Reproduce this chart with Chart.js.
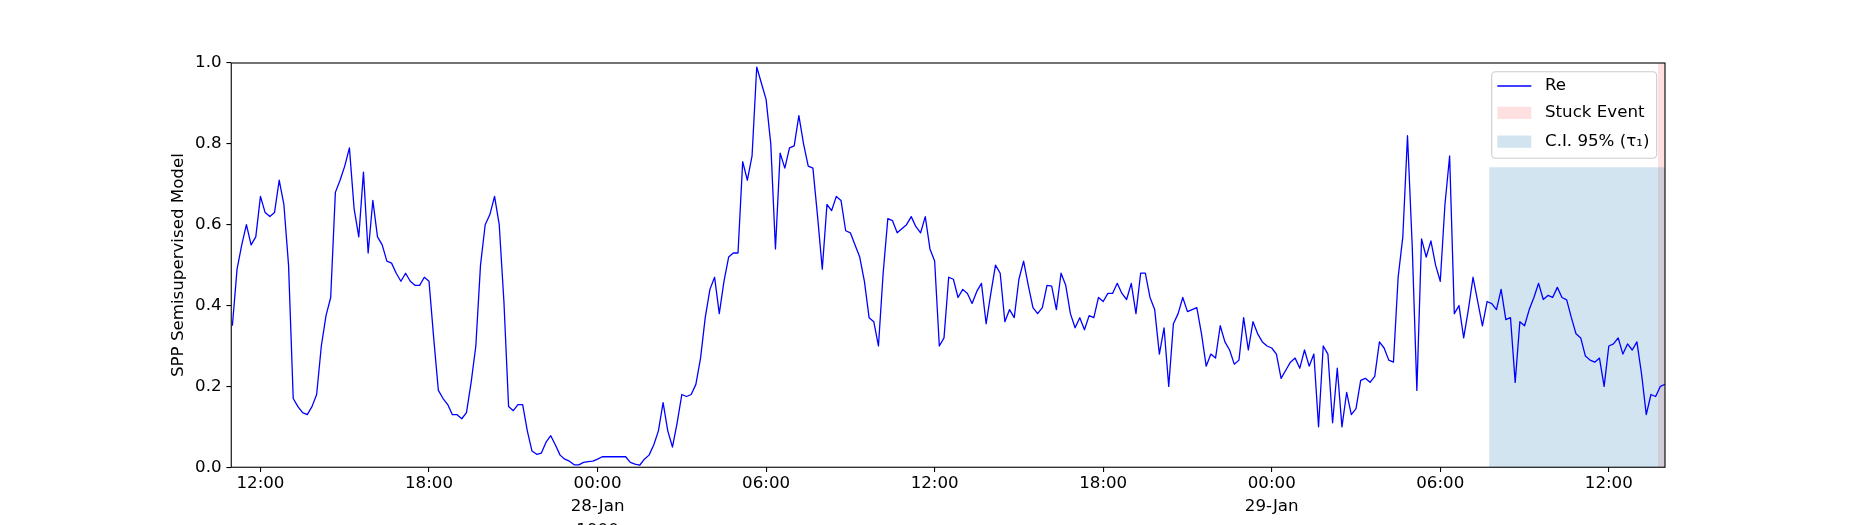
<!DOCTYPE html>
<html>
<head>
<meta charset="utf-8">
<script src="https://cdn.jsdelivr.net/npm/chart.js@4.4.1/dist/chart.umd.min.js"></script>
<style>
  html, body { margin: 0; padding: 0; background: #fff; overflow: hidden; }
  canvas { display: block; }
</style>
</head>
<body>
<canvas id="chart" width="1850" height="525"></canvas>
<script>
// one reading every 10 minutes, first one 27-Jan 11:00 (x is in hours from 27-Jan 00:00)
const startHour = 11;
const stepHours = 1 / 6;
const reValues = [
  0.35, 0.49, 0.55, 0.60, 0.55, 0.57, 0.67, 0.63, 0.62, 0.63,
  0.71, 0.65, 0.50, 0.17, 0.15, 0.135, 0.13, 0.15, 0.18, 0.30,
  0.375, 0.42, 0.68, 0.71, 0.745, 0.79, 0.64, 0.57, 0.73, 0.53,
  0.66, 0.57, 0.55, 0.51, 0.505, 0.48, 0.46, 0.48, 0.46, 0.45,
  0.45, 0.47, 0.46, 0.32, 0.19, 0.17, 0.155, 0.13, 0.13, 0.12,
  0.135, 0.21, 0.30, 0.50, 0.60, 0.625, 0.67, 0.60, 0.41, 0.15,
  0.14, 0.155, 0.155, 0.09, 0.04, 0.032, 0.035, 0.062, 0.078, 0.055,
  0.03, 0.02, 0.015, 0.006, 0.006, 0.012, 0.014, 0.015, 0.02, 0.026,
  0.026, 0.026, 0.026, 0.026, 0.026, 0.012, 0.008, 0.005, 0.02, 0.03,
  0.055, 0.09, 0.16, 0.09, 0.05, 0.11, 0.18, 0.175, 0.18, 0.205,
  0.27, 0.37, 0.44, 0.47, 0.38, 0.46, 0.52, 0.53, 0.53, 0.756,
  0.71, 0.77, 0.99, 0.95, 0.91, 0.80, 0.54, 0.777, 0.74, 0.79,
  0.795, 0.87, 0.80, 0.745, 0.74, 0.62, 0.49, 0.65, 0.635, 0.67,
  0.66, 0.585, 0.58, 0.55, 0.52, 0.46, 0.37, 0.36, 0.30, 0.48,
  0.615, 0.61, 0.58, 0.59, 0.60, 0.62, 0.595, 0.58, 0.62, 0.54,
  0.51, 0.30, 0.32, 0.47, 0.465, 0.42, 0.44, 0.43, 0.405, 0.435,
  0.455, 0.355, 0.43, 0.50, 0.48, 0.36, 0.39, 0.37, 0.465, 0.51,
  0.45, 0.395, 0.38, 0.395, 0.45, 0.448, 0.39, 0.48, 0.45, 0.38,
  0.345, 0.37, 0.34, 0.375, 0.37, 0.42, 0.41, 0.43, 0.43, 0.455,
  0.43, 0.415, 0.455, 0.38, 0.48, 0.48, 0.42, 0.39, 0.28, 0.345,
  0.20, 0.355, 0.38, 0.42, 0.385, 0.39, 0.395, 0.33, 0.25, 0.28,
  0.27, 0.35, 0.31, 0.29, 0.255, 0.265, 0.37, 0.29, 0.36, 0.33,
  0.31, 0.30, 0.295, 0.28, 0.22, 0.24, 0.26, 0.27, 0.245, 0.29,
  0.25, 0.28, 0.10, 0.30, 0.28, 0.11, 0.245, 0.10, 0.185, 0.13,
  0.145, 0.215, 0.22, 0.21, 0.225, 0.31, 0.295, 0.265, 0.26, 0.47,
  0.57, 0.82, 0.55, 0.19, 0.565, 0.52, 0.56, 0.50, 0.46, 0.65,
  0.77, 0.38, 0.40, 0.32, 0.39, 0.47, 0.41, 0.35, 0.41, 0.405,
  0.39, 0.44, 0.365, 0.37, 0.21, 0.36, 0.35, 0.39, 0.42, 0.455,
  0.415, 0.425, 0.42, 0.445, 0.42, 0.414, 0.37, 0.33, 0.32, 0.275,
  0.265, 0.26, 0.27, 0.20, 0.30, 0.305, 0.32, 0.28, 0.305, 0.29,
  0.31, 0.23, 0.13, 0.18, 0.175, 0.20, 0.205
];

const tickHours = [12, 18, 24, 30, 36, 42, 48, 54, 60];
const tickLabels = ["12:00", "18:00", ["00:00", "28-Jan", "1900"], "06:00", "12:00",
                    "18:00", ["00:00", "29-Jan"], "06:00", "12:00"];
const yTicks = [0, 0.2, 0.4, 0.6, 0.8, 1.0];

const xRange = [10.96, 62.0];
const stuckEvent = [61.75, 62.0];
const ciBand = [55.74, 62.0];
const ciTop = 0.742;

const lineColor = '#0000ff';
const stuckColor = 'rgba(255, 0, 0, 0.12)';
const ciColor = 'rgba(31, 119, 180, 0.2)';
const fontFamily = "'DejaVu Sans', sans-serif";
const fontSize = 16.67;

const points = reValues.map((v, i) => ({ x: startHour + i * stepHours, y: v }));

const spans = {
  id: 'spans',
  beforeDatasetsDraw(chart) {
    const { ctx, scales: { x, y } } = chart;
    const yb = y.getPixelForValue(0);
    ctx.save();
    // stuck event, full height
    let x0 = x.getPixelForValue(stuckEvent[0]);
    let x1 = x.getPixelForValue(stuckEvent[1]);
    ctx.fillStyle = stuckColor;
    ctx.fillRect(x0, y.getPixelForValue(1), x1 - x0, yb - y.getPixelForValue(1));
    // confidence interval band
    x0 = x.getPixelForValue(ciBand[0]);
    x1 = x.getPixelForValue(ciBand[1]);
    const yt = y.getPixelForValue(ciTop);
    ctx.fillStyle = ciColor;
    ctx.fillRect(x0, yt, x1 - x0, yb - yt);
    ctx.restore();
  }
};

const frameAndLegend = {
  id: 'frameAndLegend',
  afterDraw(chart) {
    const { ctx, chartArea: a } = chart;
    ctx.save();
    ctx.strokeStyle = '#000';
    ctx.lineWidth = 1.1;
    ctx.strokeRect(a.left, a.top, a.right - a.left, a.bottom - a.top);

    // legend box, upper right
    const w = 165, h = 86.6;
    const bx = a.right - 8.3 - w, by = a.top + 8.7;
    ctx.beginPath();
    ctx.roundRect(bx, by, w, h, 4);
    ctx.fillStyle = 'rgba(255,255,255,0.8)';
    ctx.fill();
    ctx.strokeStyle = '#cccccc';
    ctx.lineWidth = 1.1;
    ctx.stroke();

    const hx = bx + 5.6, hw = 34, tx = bx + 53.3;
    const rows = [by + 14.3, by + 41, by + 69.8];
    ctx.strokeStyle = lineColor;
    ctx.lineWidth = 1.3;
    ctx.beginPath();
    ctx.moveTo(hx, rows[0]);
    ctx.lineTo(hx + hw, rows[0]);
    ctx.stroke();
    ctx.fillStyle = stuckColor;
    ctx.fillRect(hx, rows[1] - 6, hw, 12.3);
    ctx.fillStyle = ciColor;
    ctx.fillRect(hx, rows[2] - 6, hw, 12.3);

    ctx.fillStyle = '#000';
    ctx.font = fontSize + 'px ' + fontFamily;
    ctx.textBaseline = 'middle';
    ctx.textAlign = 'left';
    ctx.fillText('Re', tx, rows[0]);
    ctx.fillText('Stuck Event', tx, rows[1]);
    ctx.fillText('C.I. 95% (τ₁)', tx, rows[2]);
    ctx.restore();
  }
};

new Chart(document.getElementById('chart'), {
  type: 'line',
  data: {
    datasets: [{
      label: 'Re',
      data: points,
      borderColor: lineColor,
      borderWidth: 1.3,
      pointRadius: 0,
      tension: 0,
      fill: false,
      borderJoinStyle: 'round'
    }]
  },
  options: {
    responsive: false,
    devicePixelRatio: 1,
    animation: false,
    events: [],
    layout: { padding: { left: 169, top: 63, right: 185, bottom: 0 } },
    plugins: { legend: { display: false }, tooltip: { enabled: false } },
    scales: {
      x: {
        type: 'linear',
        min: xRange[0],
        max: xRange[1],
        afterFit(scale) { scale.height = 525 - 467.25; },
        afterBuildTicks(scale) { scale.ticks = tickHours.map(v => ({ value: v })); },
        grid: { display: true, drawOnChartArea: false, drawTicks: true, tickLength: 4.86, color: '#000', lineWidth: 1.1 },
        border: { display: false },
        ticks: {
          autoSkip: false,
          maxRotation: 0,
          padding: 0,
          color: '#000',
          font: { family: fontFamily, size: fontSize, lineHeight: 1.4 },
          callback: (v) => tickLabels[tickHours.indexOf(v)]
        }
      },
      y: {
        min: 0,
        max: 1,
        afterFit(scale) { scale.width = 231.25 - 169; },
        afterBuildTicks(scale) { scale.ticks = yTicks.map(v => ({ value: v })); },
        grid: { display: true, drawOnChartArea: false, drawTicks: true, tickLength: 4.86, color: '#000', lineWidth: 1.1 },
        border: { display: false },
        ticks: {
          padding: 4.86,
          color: '#000',
          font: { family: fontFamily, size: fontSize },
          callback: (v) => v.toFixed(1)
        },
        title: {
          display: true,
          text: 'SPP Semisupervised Model',
          color: '#000',
          padding: 0,
          font: { family: fontFamily, size: fontSize, lineHeight: 1.2 }
        }
      }
    }
  },
  plugins: [spans, frameAndLegend]
});
</script>
</body>
</html>
